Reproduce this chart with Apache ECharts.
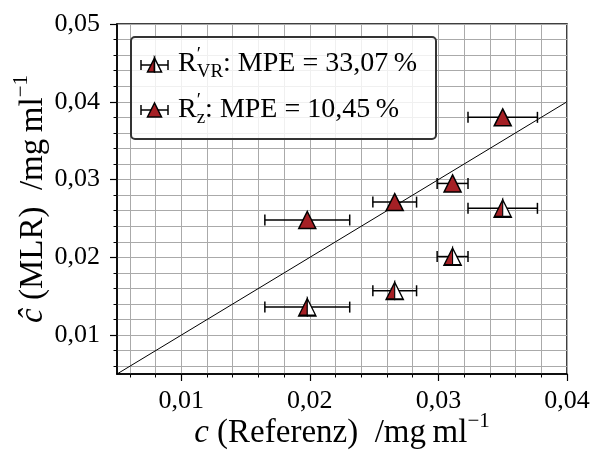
<!DOCTYPE html>
<html>
<head>
<meta charset="utf-8">
<script src="https://cdn.jsdelivr.net/npm/echarts@6/dist/echarts.min.js"></script>
<style>
html, body { margin: 0; padding: 0; background: #fff; }
#chart { width: 592px; height: 452px; }
</style>
</head>
<body>
<div id="chart"></div>
<script>
// reference concentration (x) with its uncertainty, and the two MLR predictions (y)
var refX = [0.0198, 0.0266, 0.0311, 0.0350];
var refErr = [0.0033, 0.0017, 0.0012, 0.0027];
var predVR = [0.0136, 0.0157, 0.0201, 0.0263];
var predZ = [0.0248, 0.0271, 0.0295, 0.0380];
var diagLine = [0.005, 0.04];
var xTicks = [0.01, 0.02, 0.03, 0.04];
var yTicks = [0.01, 0.02, 0.03, 0.04, 0.05];
var mpeVR = '33,07';
var mpeZ = '10,45';

var SERIF = "'Liberation Serif', 'DejaVu Serif', serif";
var RED = '#a52025';

var chart = echarts.init(document.getElementById('chart'));

function fmt(v) {
    return v.toFixed(2).replace('.', ',');
}

function errData(ys) {
    var out = [];
    for (var i = 0; i < refX.length; i++) {
        out.push([refX[i], ys[i], refX[i] - refErr[i], refX[i] + refErr[i]]);
    }
    return out;
}

function pts(ys) {
    var out = [];
    for (var i = 0; i < refX.length; i++) out.push([refX[i], ys[i]]);
    return out;
}

function renderErr(params, api) {
    var y = api.value(1);
    var a = api.coord([api.value(2), y]);
    var b = api.coord([api.value(3), y]);
    var c = 5.5;
    var st = { stroke: '#000', lineWidth: 1.5, fill: null };
    return {
        type: 'group',
        children: [
            { type: 'line', shape: { x1: a[0], y1: a[1], x2: b[0], y2: b[1] }, style: st },
            { type: 'line', shape: { x1: a[0], y1: a[1] - c, x2: a[0], y2: a[1] + c }, style: st },
            { type: 'line', shape: { x1: b[0], y1: b[1] - c, x2: b[0], y2: b[1] + c }, style: st }
        ]
    };
}

var nameRich = {
    i: { fontStyle: 'italic', fontFamily: SERIF, fontSize: 33, lineHeight: 44, color: '#000' },
    sup: { fontFamily: SERIF, fontSize: 21, lineHeight: 22, verticalAlign: 'top', color: '#000' }
};

var axisCommon = {
    type: 'value',
    splitNumber: 4,
    axisLine: { show: true, onZero: false, lineStyle: { color: '#000', width: 1.5 } },
    minorTick: { show: true, splitNumber: 5, length: 3.5, lineStyle: { color: '#000', width: 1 } },
    splitLine: { show: true, lineStyle: { color: '#aaaaaa', width: 1 } },
    minorSplitLine: { show: true, lineStyle: { color: '#aaaaaa', width: 1 } },
    nameLocation: 'middle',
    nameMoveOverlap: false,
    nameTextStyle: { fontFamily: SERIF, fontSize: 33, lineHeight: 44, color: '#000', rich: nameRich }
};

var legendRich = {
    m: { fontFamily: SERIF, fontSize: 28, lineHeight: 36, fill: '#000' },
    p: { fontFamily: SERIF, fontSize: 19, lineHeight: 26, width: 0, verticalAlign: 'top', fill: '#000' },
    s: { fontFamily: SERIF, fontSize: 19, lineHeight: 18, verticalAlign: 'bottom', fill: '#000' }
};

function legendIcon(cx, cy, half) {
    var t = 7;
    var st = { stroke: '#000', lineWidth: 1.5 };
    var kids = [
        { type: 'line', z: 101, shape: { x1: -13.5, y1: 0, x2: 13.5, y2: 0 }, style: st },
        { type: 'line', z: 101, shape: { x1: -13.5, y1: -5, x2: -13.5, y2: 5 }, style: st },
        { type: 'line', z: 101, shape: { x1: 13.5, y1: -5, x2: 13.5, y2: 5 }, style: st }
    ];
    if (half) {
        kids.push({ type: 'polygon', z: 102, shape: { points: [[0, -t], [-t, t], [0, t]] }, style: { fill: RED, stroke: '#000', lineWidth: 1.5 } });
        kids.push({ type: 'polygon', z: 102, shape: { points: [[0, -t], [0, t], [t, t]] }, style: { fill: '#fff', stroke: '#000', lineWidth: 1.5 } });
    } else {
        kids.push({ type: 'polygon', z: 102, shape: { points: [[0, -t], [-t, t], [t, t]] }, style: { fill: RED, stroke: '#000', lineWidth: 1.5 } });
    }
    return { type: 'group', x: cx, y: cy, z: 101, children: kids };
}

var option = {
    animation: false,
    backgroundColor: '#fff',
    grid: {
        left: 117, right: 25, top: 24, bottom: 78,
        containLabel: false, outerBoundsMode: 'none',
        show: true, borderColor: '#000', borderWidth: 1.5
    },
    xAxis: Object.assign({}, axisCommon, {
        min: 0.005,
        max: 0.04,
        axisTick: { show: true, length: 7, customValues: xTicks, lineStyle: { color: '#000', width: 1.2 } },
        axisLabel: { customValues: xTicks, formatter: fmt, fontFamily: SERIF, fontSize: 26, color: '#000', margin: 14 },
        name: '{i|c} (Referenz)  /mg\u2009ml{sup|\u22121}',
        nameGap: 37
    }),
    yAxis: Object.assign({}, axisCommon, {
        min: 0.005,
        max: 0.05,
        axisTick: { show: true, length: 7, customValues: yTicks, lineStyle: { color: '#000', width: 1.2 } },
        axisLabel: { customValues: yTicks, formatter: fmt, fontFamily: SERIF, fontSize: 26, color: '#000', margin: 17 },
        name: '{i|\u0109} (MLR)  /mg\u2009ml{sup|\u22121}',
        nameGap: 62
    }),
    series: [
        {
            type: 'line',
            data: [[diagLine[0], diagLine[0]], [diagLine[1], diagLine[1]]],
            symbol: 'none',
            silent: true,
            z: 5,
            lineStyle: { color: '#000', width: 1 }
        },
        {
            type: 'custom',
            renderItem: renderErr,
            data: errData(predVR),
            encode: { x: 0, y: 1 },
            silent: true,
            z: 3
        },
        {
            type: 'custom',
            renderItem: renderErr,
            data: errData(predZ),
            encode: { x: 0, y: 1 },
            silent: true,
            z: 3
        },
        {
            name: 'VR left',
            type: 'scatter',
            data: pts(predVR),
            symbol: 'path://M1 0L0 2L1 2Z',
            symbolSize: [8.5, 17],
            symbolOffset: [-4.25, 0],
            silent: true,
            z: 6,
            itemStyle: { color: RED, borderColor: '#000', borderWidth: 1.5, opacity: 1 }
        },
        {
            name: 'VR right',
            type: 'scatter',
            data: pts(predVR),
            symbol: 'path://M0 0L0 2L1 2Z',
            symbolSize: [8.5, 17],
            symbolOffset: [4.25, 0],
            silent: true,
            z: 6,
            itemStyle: { color: '#fff', borderColor: '#000', borderWidth: 1.5, opacity: 1 }
        },
        {
            name: 'z',
            type: 'scatter',
            data: pts(predZ),
            symbol: 'triangle',
            symbolSize: 17,
            silent: true,
            z: 6,
            itemStyle: { color: RED, borderColor: '#000', borderWidth: 1.5, opacity: 1 }
        }
    ],
    graphic: [
        {
            type: 'rect', z: 100,
            shape: { x: 131, y: 37, width: 305, height: 102, r: 4 },
            style: { fill: 'rgba(255,255,255,0.82)', stroke: '#333', lineWidth: 2 }
        },
        legendIcon(154.5, 65, true),
        legendIcon(154.5, 110, false),
        {
            type: 'text', z: 101, x: 178, y: 64,
            style: { text: '{m|R}{p|\u2032}{s|VR}{m|: MPE = ' + mpeVR + '\u2009%}', rich: legendRich, verticalAlign: 'middle', fill: '#000' }
        },
        {
            type: 'text', z: 101, x: 178, y: 109.5,
            style: { text: '{m|R}{p|\u2032}{s|z}{m|: MPE = ' + mpeZ + '\u2009%}', rich: legendRich, verticalAlign: 'middle', fill: '#000' }
        }
    ]
};

chart.setOption(option);
</script>
</body>
</html>
